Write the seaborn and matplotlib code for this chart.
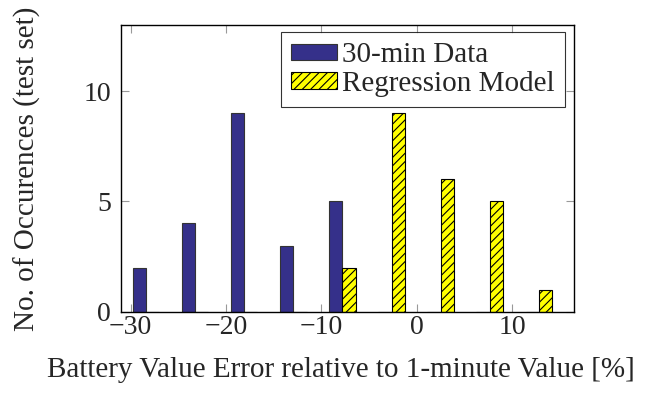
import matplotlib
matplotlib.use("Agg")
import matplotlib.pyplot as plt
from matplotlib.patches import Patch
import seaborn as sns
import pandas as pd

bin_centers = [-28.4, -23.25, -18.1, -12.95, -7.8, -2.65, 2.5, 7.65, 12.8]
thirty_min = [2, 4, 9, 3, 5, 0, 0, 0, 0]
regression = [0, 0, 0, 0, 2, 9, 6, 5, 1]
series_names = ["30-min Data", "Regression Model"]
x_ticks = [-30, -20, -10, 0, 10]
y_ticks = [0, 5, 10]

blue = "#35308A"
yellow = "#FFFF00"

sns.set_theme(style="white")
plt.rcParams["font.family"] = ["Liberation Serif", "DejaVu Serif"]
plt.rcParams["mathtext.fontset"] = "dejavuserif"
plt.rcParams["hatch.color"] = "black"
plt.rcParams["hatch.linewidth"] = 0.8

df = pd.DataFrame({
    "x": bin_centers * 2,
    "count": thirty_min + regression,
    "series": [series_names[0]] * len(bin_centers) + [series_names[1]] * len(bin_centers),
})

fig = plt.figure(figsize=(6.7, 3.93), dpi=100)
ax = fig.add_axes([0.180, 0.207, 0.677, 0.729])

sns.barplot(data=df, x="x", y="count", hue="series", native_scale=True,
            palette=[blue, yellow], width=0.544, gap=0, dodge=True,
            edgecolor="black", linewidth=0.8, saturation=1, ax=ax, legend=False,
            errorbar=None)

n = len(bin_centers)
for i, p in enumerate(ax.patches):
    if i < n:
        p.set_edgecolor("#333333")
    else:
        p.set_edgecolor("black")
        p.set_hatch("////")

ax.set_xlim(-31.05, 16.5)
ax.set_ylim(0, 13)
ax.set_xticks(x_ticks)
ax.set_yticks(y_ticks)
ax.set_xticklabels([f"\u2212{abs(v)}" if v < 0 else str(v) for v in x_ticks])
ax.tick_params(axis="both", which="major", direction="in", length=6, width=0.8,
               color="#999999", labelsize=20, top=True, right=True,
               bottom=True, left=True)
ax.tick_params(axis="x", pad=2.5)
ax.tick_params(axis="y", pad=7)
for s in ax.spines.values():
    s.set_color("black")
    s.set_linewidth(1.0)

ax.set_xlabel("Battery Value Error relative to 1-minute Value [%]", fontsize=21)
ax.set_ylabel("No. of Occurences (test set)", fontsize=21)
ax.xaxis.set_label_coords(0.486, -0.158)
ax.yaxis.set_label_coords(-0.176, 0.5)

handles = [
    Patch(facecolor=blue, edgecolor="#333333", linewidth=0.8, label=series_names[0]),
    Patch(facecolor=yellow, edgecolor="black", linewidth=0.8, hatch="////", label=series_names[1]),
]
leg = ax.legend(handles=handles, loc="upper right", bbox_to_anchor=(0.9795, 0.9766),
                fontsize=21, frameon=True, fancybox=False, edgecolor="black",
                handlelength=1.58, handleheight=0.48, handletextpad=0.17,
                borderpad=0.35, labelspacing=0.1, borderaxespad=0)
leg.get_frame().set_linewidth(0.8)

fig.savefig("out.png", dpi=100)
